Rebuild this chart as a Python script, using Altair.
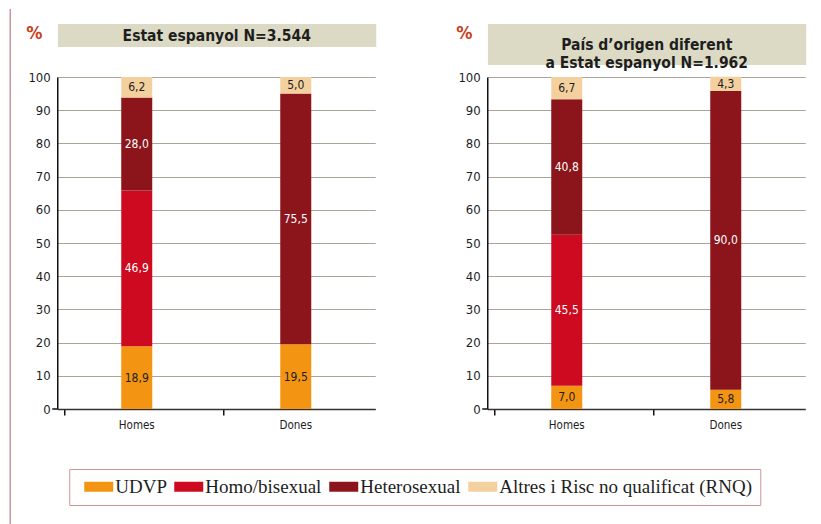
import altair as alt
import pandas as pd

# ---- data ----
categories = ["UDVP", "Homo/bisexual", "Heterosexual", "Altres i Risc no qualificat (RNQ)"]
colors = ["#f39512", "#cd0a20", "#8b151b", "#f4d09f"]
sexes = ["Homes", "Dones"]
spain_homes = [18.9, 46.9, 28.0, 6.2]
spain_dones = [19.5, 0.0, 75.5, 5.0]
foreign_homes = [7.0, 45.5, 40.8, 6.7]
foreign_dones = [5.8, 0.0, 90.0, 4.3]
titles = ["Estat espanyol N=3.544", "País d’origen diferent\na Estat espanyol N=1.962"]
y_ticks = [0, 10, 20, 30, 40, 50, 60, 70, 80, 90, 100]

SANS = "DejaVu Sans Condensed, Roboto, sans-serif"
SERIF = "Liberation Serif, DejaVu Serif, serif"
BEIGE = "#dcdac4"
PINK = "#d0949a"
GRID = "#aba498"
DARK = "#1e1e1e"


def long_df(homes, dones):
    rows = []
    for sex, vals in zip(sexes, [homes, dones]):
        for i, (c, v) in enumerate(zip(categories, vals)):
            rows.append({"sex": sex, "cat": c, "value": v, "order": i})
    return pd.DataFrame(rows)


color_scale = alt.Scale(domain=categories, range=colors)
legend = alt.Legend(
    title=None, orient="none", legendX=12, legendY=392, direction="horizontal",
    symbolType="M-2.9,-1H2.9V1H-2.9Z", symbolSize=100, symbolOffset=12,
    symbolStrokeWidth=0, labelOffset=7, columnPadding=0, padding=8,
    strokeColor=PINK, fillColor="white", labelFont=SERIF, labelFontSize=19,
    labelColor=DARK, labelLimit=0,
)

y_axis = alt.Axis(values=y_ticks, tickCount=20, labelOverlap=False, labelFont=SANS,
                  labelFontSize=13, labelColor=DARK, domainColor="#111111", domainWidth=1.5,
                  grid=True, gridColor=GRID, gridWidth=1, ticks=False,
                  labelPadding=7)
x_axis = alt.Axis(labelAngle=0, labelFont=SANS, labelFontSize=11.5,
                  labelColor=DARK, domainColor="#333333", domainWidth=1.5,
                  ticks=True, tickColor="#111111", tickSize=6, tickWidth=1.5,
                  bandPosition=0, labelPadding=4, grid=False)


def panel(df, title, box_y2, text_y, with_line):
    base = alt.Chart(df).transform_stack(
        stack="value", groupby=["sex"], as_=["y0", "y1"], sort=[alt.SortField("order")]
    ).transform_calculate(
        mid="(datum.y0 + datum.y1) / 2",
        lab="replace(format(datum.value, '.1f'), '.', ',')",
    )
    yscale = alt.Scale(domain=[0, 100], nice=False)
    bars = base.mark_bar(size=31).encode(
        x=alt.X("sex:N", sort=sexes, title=None, axis=x_axis),
        y=alt.Y("y0:Q", scale=yscale, title=None, axis=y_axis),
        y2="y1:Q",
        color=alt.Color("cat:N", scale=color_scale, legend=legend, sort=categories),
    )
    labels = base.transform_filter("datum.value > 0").mark_text(
        font=SANS, fontSize=12, baseline="middle"
    ).encode(
        x=alt.X("sex:N", sort=sexes),
        y=alt.Y("mid:Q", scale=yscale),
        text="lab:N",
        color=alt.condition(
            "datum.cat == 'Homo/bisexual' || datum.cat == 'Heterosexual'",
            alt.value("white"), alt.value(DARK)),
    )
    hdf = pd.DataFrame({"t": [title], "zero": [0]})
    zero_tick = alt.Chart(hdf).mark_rule(color="#111111", strokeWidth=1.5).encode(
        y=alt.Y("zero:Q", scale=yscale), x=alt.value(-5), x2=alt.value(0))
    hbox = alt.Chart(hdf).mark_rect(color=BEIGE).encode(
        x=alt.value(0.7), x2=alt.value(319), y=alt.value(-53), y2=alt.value(box_y2))
    htext = alt.Chart(hdf).mark_text(
        font=SANS, fontSize=15.5, fontWeight="bold", color=DARK,
        lineBreak="\n", lineHeight=18, baseline="middle"
    ).encode(x=alt.value(159.5), y=alt.value(text_y), text="t:N")
    pct = alt.Chart(hdf).mark_text(
        text="%", font=SANS, fontSize=18, fontWeight="bold", color="#c8421e", baseline="middle"
    ).encode(x=alt.value(-23), y=alt.value(-43))
    layers = [bars, labels, zero_tick, hbox, htext, pct]
    if with_line:
        line = alt.Chart(hdf).mark_rule(color=PINK, strokeWidth=1.5).encode(
            x=alt.value(-47), y=alt.value(-68), y2=alt.value(448))
        layers.append(line)
    return alt.layer(*layers).properties(width=318, height=332)


p1 = panel(long_df(spain_homes, spain_dones), titles[0], -30, -41, True)
p2 = panel(long_df(foreign_homes, foreign_dones), titles[1], -12, -32, False)

chart = alt.hconcat(p1, p2, spacing=112, bounds="flush").properties(
    padding={"left": 1.25, "top": 0, "right": 5, "bottom": 0}
).configure_view(strokeWidth=0)

chart.save("out.html", embed_options={"renderer": "svg", "actions": False})
